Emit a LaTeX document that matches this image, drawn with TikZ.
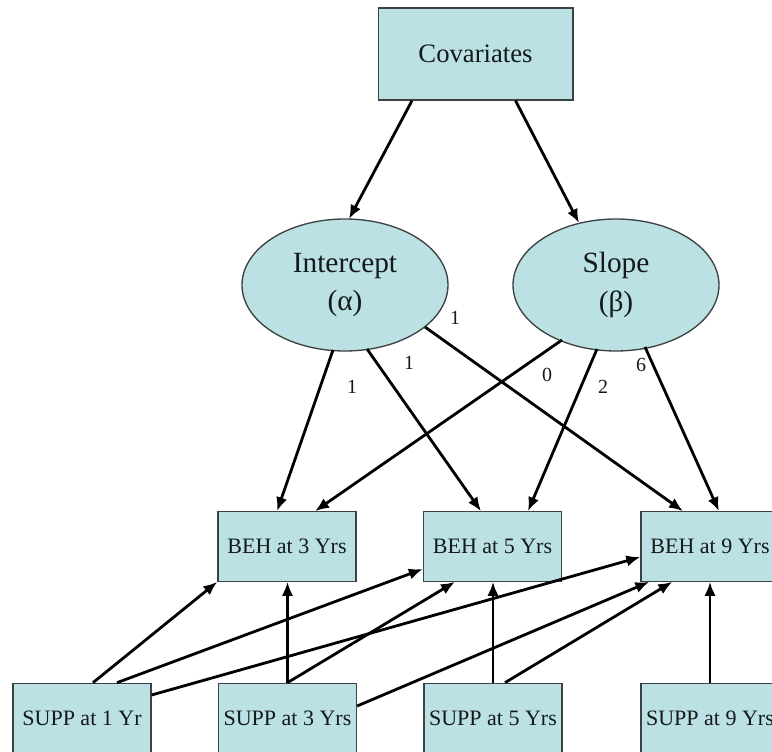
\documentclass[tikz,border=0pt]{standalone}
\usepackage{fontspec}
\setmainfont{Liberation Serif}
\usetikzlibrary{arrows.meta,calc,shapes.geometric}
\definecolor{boxfill}{RGB}{187,225,229}
\definecolor{boxline}{RGB}{60,65,65}
\definecolor{txt}{RGB}{20,25,25}
\tikzset{
  rbox/.style={draw=boxline, line width=1pt, fill=boxfill, inner sep=0pt, text=txt,
    minimum width=103.5pt, minimum height=52pt, font=\fontsize{16.5}{18}\selectfont},
  covbox/.style={rbox, minimum width=146pt, minimum height=69pt, font=\fontsize{20}{22}\selectfont},
  latent/.style={ellipse, draw=boxline, line width=1pt, fill=boxfill, inner sep=0pt, text=txt,
    minimum width=154.5pt, minimum height=99pt, align=center, font=\fontsize{22}{29}\selectfont},
  arr/.style={-{Latex[length=10.5pt,width=8.5pt]}, line width=2.1pt, black},
  lbl/.style={font=\fontsize{15}{17}\selectfont, text=txt, inner sep=0pt}
}
\begin{document}
\begin{tikzpicture}[x=0.75pt,y=-0.75pt]
\useasboundingbox (0,0) rectangle (772,752);
\clip (0,0) rectangle (772,752);
% nodes
\node[covbox] (cov) at (475.5,54) {Covariates};
\node[latent] (int) at (345,285) {Intercept\\(α)};
\node[latent] (slo) at (616,285) {Slope\\(β)};
\node[rbox] (beh3) at (287,546.5) {BEH at 3 Yrs};
\node[rbox] (beh5) at (492.5,546.5) {BEH at 5 Yrs};
\node[rbox] (beh9) at (710,546.5) {BEH at 9 Yrs};
\node[rbox] (supp1) at (82,718) {SUPP at 1 Yr};
\node[rbox] (supp3) at (287.5,718) {SUPP at 3 Yrs};
\node[rbox] (supp5) at (493,718) {SUPP at 5 Yrs};
\node[rbox] (supp9) at (710,718) {SUPP at 9 Yrs};
% covariates to latent
\draw[arr] ($(cov.south)+(-63.5,0)$) -- ($(int)+(4,-66)$);
\draw[arr] ($(cov.south)+(40,0)$) -- ($(slo)+(-37,-62)$);
% latent to BEH
\draw[arr] ($(int)+(-12,65)$) -- ($(beh3.north)+(-10,0)$);
\draw[arr] ($(int)+(22,64)$) -- ($(beh5.north)+(-11.5,0)$);
\draw[arr] ($(int)+(80,42)$) -- ($(beh9.north)+(-27,0)$);
\draw[arr] ($(slo)+(-54,55)$) -- ($(beh3.north)+(28,0)$);
\draw[arr] ($(slo)+(-19,64)$) -- ($(beh5.north)+(35.5,0)$);
\draw[arr] ($(slo)+(29,62)$) -- ($(beh9.north)+(9,0)$);
% loadings
\node[lbl] (l1) at (352,387) {1};
\node[lbl] (l2) at (409,363) {1};
\node[lbl] (l3) at (455,318) {1};
\node[lbl] (l4) at (547,375) {0};
\node[lbl] (l5) at (603,387) {2};
\node[lbl] (l6) at (641,365) {6};
% SUPP to BEH
\draw[arr] ($(supp1.north)+(11,0)$) -- (beh3.south west);
\draw[arr] ($(supp1.north)+(35,0)$) -- ($(beh5.west)+(0,22.5)$);
\draw[arr] ($(supp1.east)+(0,-23)$) -- ($(beh9.west)+(0,10.5)$);
\draw[arr] (supp3.north) -- (supp3.north |- beh3.south);
\draw[arr] (supp3.north) -- ($(beh5.south)+(-37.5,0)$);
\draw[arr] ($(supp3.east)+(0,-12)$) -- ($(beh9.south west)+(9,0)$);
\draw[arr] (supp5.north) -- (supp5.north |- beh5.south);
\draw[arr] ($(supp5.north)+(12,0)$) -- ($(beh9.south west)+(32,0)$);
\draw[arr] (supp9.north) -- (beh9.south);
\end{tikzpicture}
\end{document}
